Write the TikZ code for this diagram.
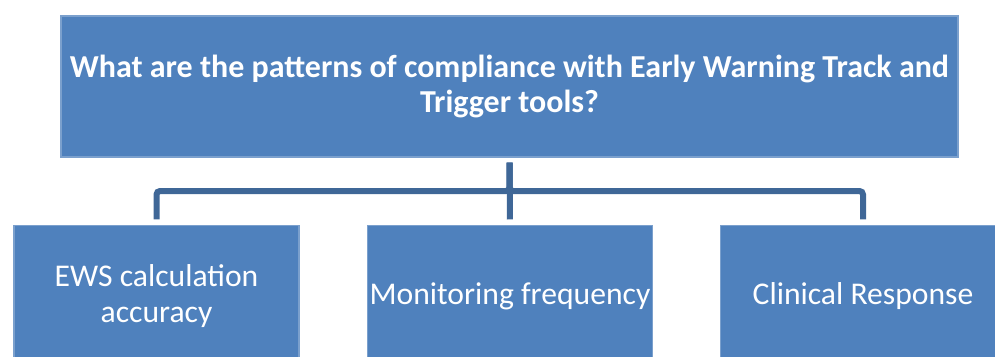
\documentclass[tikz,border=0pt]{standalone}
\usepackage{fontspec}
\setmainfont{Carlito}
\definecolor{boxblue}{HTML}{4F81BD}
\definecolor{boxline}{HTML}{7BA0CD}
\definecolor{linkblue}{HTML}{3F6797}
\begin{document}
\begin{tikzpicture}
    [font=\fontsize{18pt}{20.5pt}\selectfont,
    question/.style={shape=rectangle,fill=boxblue,draw=boxline,line width=0.6pt,text=white,
      minimum width=17.94cm,minimum height=2.82cm,align=center,
      font=\fontsize{18.2pt}{19.5pt}\selectfont\bfseries},
    topic/.style={shape=rectangle,fill=boxblue,draw=boxline,line width=0.6pt,text=white,
      minimum width=5.7cm,minimum height=2.82cm,align=center,inner sep=0pt},
    link/.style={draw=linkblue,line width=0.12cm,rounded corners=2pt,
      shorten <=0.1cm,shorten >=0.11cm}]

    \useasboundingbox (0,0) rectangle (19.9,7.12);
    \clip (0,0) rectangle (19.9,7.12);

    \node (q) [question] at (10.19,5.39)
      {What are the patterns of compliance with Early Warning Track and\\Trigger tools?};

    \node (ews) [topic] at (3.13,1.2) {EWS calculation\\accuracy};
    \node (mon) [topic] at (10.2,1.2) {Monitoring frequency};
    \node (resp) [topic] at (17.26,1.2) {Clinical Response};

    \coordinate (bus) at (10.19,3.3);

    \draw [link] (q.south) -- (bus) -| (ews.north);
    \draw [link] (q.south) -- (mon.north);
    \draw [link] (q.south) -- (bus) -| (resp.north);

  \end{tikzpicture}
\end{document}
